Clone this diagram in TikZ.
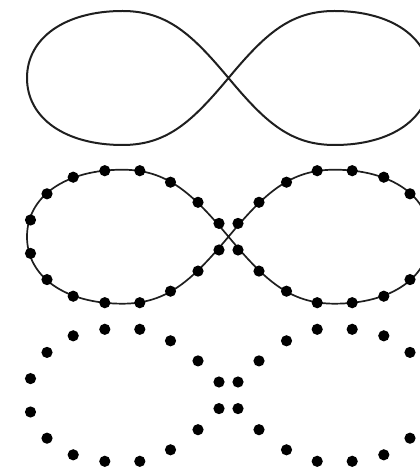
\documentclass[tikz,border=0pt]{standalone}
\begin{document}
\begin{tikzpicture}[x=1pt,y=1pt,
  curveline/.style={line width=2pt,black!88,line join=round},
  dotcurve/.style={line width=1.7pt,black!88,line join=round},
  dotfill/.style={fill=black}]
\clip (0,0) rectangle (420,471);
\newcommand\eightcurve[1]{%
  \draw[#1] (0,0)
    .. controls (-36,43) and (-61,67) .. (-106,67)
    .. controls (-163.3,67) and (-201.5,40.2) .. (-201.5,0)
    .. controls (-201.5,-40.2) and (-163.3,-67) .. (-106,-67)
    .. controls (-61,-67) and (-36,-43) .. (0,0)
    .. controls (36,43) and (61,67) .. (106,67)
    .. controls (163.3,67) and (201.5,40.2) .. (201.5,0)
    .. controls (201.5,-40.2) and (163.3,-67) .. (106,-67)
    .. controls (61,-67) and (36,-43) .. (0,0);}
\newcommand\eightdots{%
  \foreach \px/\py in {9.5/13.3, 30.5/34.4, 58/54.5, 88.7/66, 123.7/66, 155.3/59.5, 181.5/42.9, 198/16.7}{
    \fill[dotfill] (\px,\py) circle (5.6);
    \fill[dotfill] (-\px,\py) circle (5.6);
    \fill[dotfill] (\px,-\py) circle (5.6);
    \fill[dotfill] (-\px,-\py) circle (5.6);
  }}
% top row: curve only
\begin{scope}[shift={(228.5,393)}]
  \eightcurve{curveline}
\end{scope}
% middle row: curve with dots
\begin{scope}[shift={(228.5,234.3)}]
  \eightcurve{dotcurve}
  \eightdots
\end{scope}
% bottom row: dots only
\begin{scope}[shift={(228.5,75.7)}]
  \eightdots
\end{scope}
\end{tikzpicture}
\end{document}
